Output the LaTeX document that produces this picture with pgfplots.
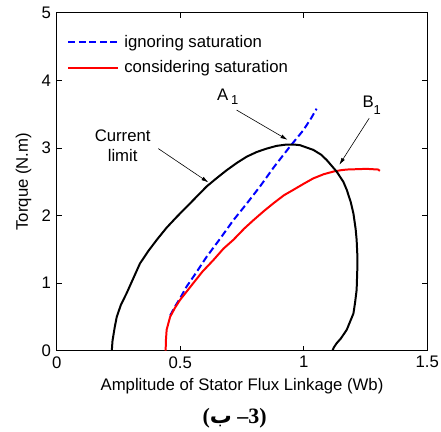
\documentclass[border=0pt]{standalone}
\usepackage{fontspec}
\setmainfont{Liberation Sans}
\newfontfamily\seriffont{Liberation Serif}
\newfontfamily\arabicfont[Script=Arabic]{DejaVu Sans}
\TeXXeTstate=1
\usepackage{pgfplots}
\pgfplotsset{compat=1.18}
\usetikzlibrary{arrows.meta}

\begin{document}
\begin{tikzpicture}
\fontsize{16.8}{20}\selectfont
\path[use as bounding box] (-56.7bp,-81.3bp) rectangle (384.3bp,350.7bp);
\begin{axis}[
    at={(0,0)}, anchor=south west,
    scale only axis,
    width=370.6bp, height=338bp,
    xmin=0, xmax=1.5, ymin=0, ymax=5,
    xtick={0,0.5,1,1.5}, ytick={0,1,2,3,4,5},
    tick align=inside,
    major tick length=5bp,
    axis line style={line width=1pt},
    every tick/.style={black, line width=0.7pt},
    /pgf/number format/assume math mode=true,
    tick label style={font=\fontsize{16.8}{20}\selectfont},
    label style={font=\fontsize{16.8}{20}\selectfont},
    xlabel={Amplitude of Stator Flux Linkage (Wb)},
    ylabel={Torque (N.m)},
    xlabel style={yshift=1bp},
    ylabel style={yshift=-1bp},
    legend style={at={(axis cs:0.03,4.73)}, anchor=north west, draw=none, fill=none,
        font=\fontsize{16.8}{20}\selectfont, row sep=7bp,
        nodes={inner xsep=5bp}},
    legend cell align=left,
    legend image code/.code={\draw[#1] (0bp,0bp) -- (50bp,0bp);},
]
\addplot[blue, line width=2pt, dash pattern=on 7bp off 3.5bp] coordinates {
    (0.459,0.52) (0.480,0.66) (0.500,0.78) (0.526,0.95) (0.560,1.13)
    (0.607,1.39) (0.660,1.65) (0.715,1.93) (0.770,2.18) (0.823,2.43)
    (0.880,2.72) (0.944,3.02) (0.998,3.26) (1.030,3.44) (1.052,3.58)
};
\addlegendentry{ignoring saturation}
\addplot[red, line width=2pt] coordinates {
    (0.441,0) (0.442,0.15) (0.445,0.31) (0.459,0.50) (0.478,0.63)
    (0.499,0.75) (0.553,1.00) (0.590,1.17) (0.634,1.34) (0.675,1.51)
    (0.715,1.64) (0.760,1.81) (0.796,1.93) (0.840,2.07) (0.877,2.18)
    (0.920,2.30) (0.958,2.38) (1.000,2.47) (1.039,2.55) (1.080,2.61)
    (1.120,2.65) (1.150,2.67) (1.174,2.68) (1.254,2.69) (1.301,2.68) (1.308,2.66)
};
\addlegendentry{considering saturation}
\addplot[black, line width=2pt, forget plot] coordinates {
    (0.223,0) (0.226,0.15) (0.235,0.35) (0.243,0.50) (0.260,0.68)
    (0.283,0.85) (0.310,1.07) (0.337,1.29) (0.370,1.47) (0.405,1.64)
    (0.445,1.82) (0.486,1.98) (0.540,2.18) (0.607,2.43) (0.650,2.56)
    (0.688,2.67) (0.730,2.78) (0.769,2.87) (0.810,2.94) (0.850,2.99)
    (0.890,3.03) (0.931,3.05) (0.960,3.05) (0.985,3.04) (1.039,2.97)
    (1.070,2.90) (1.093,2.82) (1.133,2.65) (1.160,2.50) (1.174,2.38)
    (1.190,2.20) (1.201,2.03) (1.210,1.80) (1.214,1.64) (1.217,1.40)
    (1.217,1.24) (1.214,0.90) (1.208,0.72) (1.201,0.55) (1.174,0.31)
    (1.150,0.18) (1.133,0.11) (1.122,0.05) (1.116,0)
};
% annotations
\node at (axis cs:0.692,3.76) {A\,\raisebox{-0.5ex}{\fontsize{13}{15}\selectfont 1}};
\node at (axis cs:1.275,3.63) {B\raisebox{-0.7ex}{\fontsize{13}{15}\selectfont 1}};
\node[align=center, inner sep=0pt] at (axis cs:0.267,3.03) {Current\\limit};
\draw[-{Latex[length=7bp,width=4bp]}, line width=0.6pt] (axis cs:0.728,3.56) -- (axis cs:0.934,3.12);
\draw[-{Latex[length=7bp,width=4bp]}, line width=0.6pt] (axis cs:1.265,3.44) -- (axis cs:1.144,2.75);
\draw[-{Latex[length=7bp,width=4bp]}, line width=0.6pt] (axis cs:0.411,2.99) -- (axis cs:0.614,2.49);
\end{axis}
\node[font=\fontsize{22}{26}\selectfont] at (178bp,-67.3bp)
    {{\seriffont\bfseries (}{\arabicfont\bfseries\beginR ب\endR}{\seriffont\bfseries\ –3)}};
\end{tikzpicture}
\end{document}
